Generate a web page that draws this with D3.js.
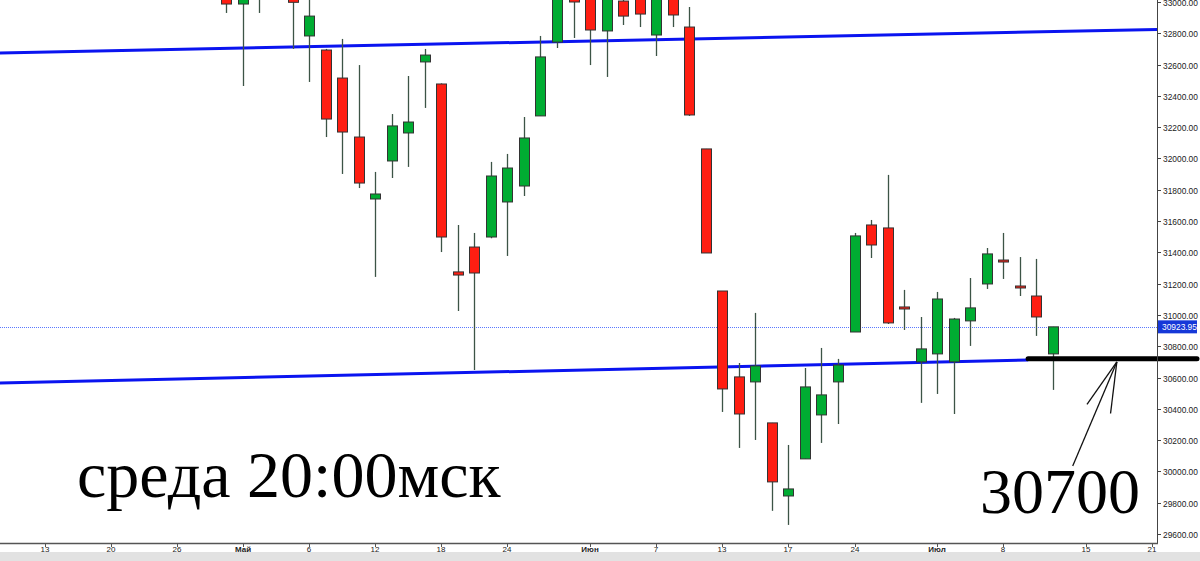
<!DOCTYPE html>
<html>
<head>
<meta charset="utf-8">
<script src="https://cdn.jsdelivr.net/npm/d3@7"></script>
<style>
  body { margin: 0; background: #fff; }
  svg { display: block; }
  .ylab, .xlab { font-family: "Liberation Sans", Arial, sans-serif; fill: #222; }
</style>
</head>
<body>
<div id="chart"></div>
<script>
// daily candles, Dow Jones, 29.04 .. 13.07
const dates = [
    "2022-04-29", "2022-05-02", "2022-05-03", "2022-05-04", "2022-05-05", "2022-05-06",
    "2022-05-09", "2022-05-10", "2022-05-11", "2022-05-12", "2022-05-13",
    "2022-05-16", "2022-05-17", "2022-05-18", "2022-05-19", "2022-05-20",
    "2022-05-23", "2022-05-24", "2022-05-25", "2022-05-26", "2022-05-27",
    "2022-05-31", "2022-06-01", "2022-06-02", "2022-06-03",
    "2022-06-06", "2022-06-07", "2022-06-08", "2022-06-09", "2022-06-10",
    "2022-06-13", "2022-06-14", "2022-06-15", "2022-06-16", "2022-06-17",
    "2022-06-21", "2022-06-22", "2022-06-23", "2022-06-24",
    "2022-06-27", "2022-06-28", "2022-06-29", "2022-06-30", "2022-07-01",
    "2022-07-05", "2022-07-06", "2022-07-07", "2022-07-08",
    "2022-07-11", "2022-07-12", "2022-07-13"
];
const opens = [
    33140, 32987, 33065, 33130, 34060, 32783,
    32693, 32514, 32137, 31741, 31984,
    32163, 32617, 32476, 31275, 31434,
    31498, 31722, 31824, 32272, 32744,
    33180, 33150, 32815, 33006,
    33080, 32789, 33170, 32840, 32061,
    31153, 30604, 30572, 30310, 29843,
    30080, 30361, 30572, 30891,
    31575, 31556, 31051, 30700, 30751,
    30700, 30962, 31198, 31351,
    31185, 31121, 30751
];
const highs = [
    33204, 33070, 33250, 34118, 34060, 33100,
    32700, 32764, 32597, 31914, 32284,
    32527, 32700, 32480, 31575, 31524,
    31978, 32029, 32265, 32783, 33215,
    33200, 33270, 33260, 33060,
    33200, 33200, 33200, 32968, 32061,
    31153, 30693, 31013, 30310, 30169,
    30661, 30789, 30719, 31524,
    31607, 31895, 31160, 30987, 31147,
    30981, 31236, 31428, 31524,
    31370, 31358, 30924
];
const lows = [
    32930, 32463, 32930, 33030, 32700, 32489,
    32137, 31901, 31811, 31243, 31875,
    31946, 32323, 31402, 31025, 30648,
    31490, 31377, 31760, 32272, 32706,
    32770, 32597, 32521, 32853,
    32840, 32655, 32840, 32272, 31396,
    30380, 30150, 30201, 29748, 29658,
    30080, 30182, 30303, 30891,
    31364, 30942, 30904, 30438, 30495,
    30367, 30802, 31166, 31230,
    31121, 30866, 30521
];
const closes = [
    32987, 33061, 33128, 34061, 32998, 32910,
    32252, 32169, 31843, 31773, 32208,
    32233, 32661, 31498, 31255, 31268,
    31888, 31939, 32131, 32649, 33213,
    33000, 32821, 33248, 32910,
    32923, 33180, 32917, 32278, 31396,
    30527, 30367, 30674, 29933, 29888,
    30540, 30489, 30680, 31505,
    31447, 30949, 31038, 30783, 31102,
    30974, 31045, 31390, 31345,
    31179, 30987, 30923.95
];
const lastPrice = 30923.95;

const holidays = ["2022-04-15", "2022-05-30", "2022-06-20", "2022-07-04"];
const tickDates = [
    "2022-04-13", "2022-04-20", "2022-04-26", "2022-05-02", "2022-05-06", "2022-05-12",
    "2022-05-18", "2022-05-24", "2022-06-01", "2022-06-07", "2022-06-13", "2022-06-17",
    "2022-06-24", "2022-07-01", "2022-07-08", "2022-07-15", "2022-07-21"
];
const tickLabels = ["13", "20", "26", "Май", "6", "12", "18", "24", "Июн", "7", "13", "17", "24", "Июл", "8", "15", "21"];
const monthLabels = ["Май", "Июн", "Июл"];
const yTicks = [29600, 29800, 30000, 30200, 30400, 30600, 30800, 31000, 31200, 31400,
    31600, 31800, 32000, 32200, 32400, 32600, 32800, 33000];

// hand drawn lines: [trading day index, price]
const upperTrend = [[-13.7, 32674], [56.3, 32825]];
const lowerTrend = [[-13.7, 30565], [48.5, 30712]];
const levelLine = [48.5, 30720];
const arrowTip = [53.87, 30700];
const arrowTail = [51.2, 30035];

const width = 1200,
    height = 561,
    plotRight = 1157,
    plotBottom = 543,
    bodyWidth = 10;

const parse = d3.timeParse("%Y-%m-%d");
const holidaySet = new Set(holidays);
const fmtDay = d3.timeFormat("%Y-%m-%d");
const day0 = parse(dates[0]);

function isTrading(d) {
    const wd = d.getDay();
    return wd !== 0 && wd !== 6 && !holidaySet.has(fmtDay(d));
}

// position of a date in trading days, counted from the first candle
function tradeIndex(str) {
    const d = parse(str);
    if (d >= day0) return d3.timeDay.range(day0, d).filter(isTrading).length;
    return -d3.timeDay.range(d, day0).filter(isTrading).length;
}

const candles = dates.map((d, i) => ({
    idx: tradeIndex(d),
    o: opens[i], h: highs[i], l: lows[i], c: closes[i]
}));

const x = d3.scaleLinear().domain([-13.7, 56.3]).range([0, plotRight]);
const y = d3.scaleLinear().domain([29600, 33000]).range([534, 2]);

const svg = d3.select('#chart').append('svg')
    .attr('width', width)
    .attr('height', height);

svg.append('rect').attr('x', 0).attr('y', 552).attr('width', width).attr('height', 9).attr('fill', '#e2e2e2');

svg.append('clipPath').attr('id', 'plot')
    .append('rect').attr('x', 0).attr('y', 0).attr('width', plotRight).attr('height', plotBottom);

const plot = svg.append('g').attr('clip-path', 'url(#plot)');

// last price dotted line
plot.append('line')
    .attr('x1', 0).attr('x2', plotRight)
    .attr('y1', Math.round(y(lastPrice)) + 0.5).attr('y2', Math.round(y(lastPrice)) + 0.5)
    .attr('stroke', '#5a78ff').attr('stroke-width', 1).attr('stroke-dasharray', '1,1');

// trend lines
const line = d3.line().x(d => x(d[0])).y(d => y(d[1]));
plot.append('path').attr('d', line(upperTrend))
    .attr('stroke', '#0a14f0').attr('stroke-width', 3).attr('fill', 'none');
plot.append('path').attr('d', line(lowerTrend))
    .attr('stroke', '#0a14f0').attr('stroke-width', 3).attr('fill', 'none');

// candles
const g = plot.selectAll('g.candle')
    .data(candles)
    .enter().append('g')
    .attr('class', 'candle');

g.append('line')
    .attr('x1', d => Math.round(x(d.idx)) + 0.5)
    .attr('x2', d => Math.round(x(d.idx)) + 0.5)
    .attr('y1', d => y(d.h))
    .attr('y2', d => y(d.l))
    .attr('stroke', '#3c5446')
    .attr('stroke-width', 1.3);

g.append('rect')
    .attr('x', d => Math.round(x(d.idx)) - bodyWidth / 2 + 0.5)
    .attr('y', d => y(Math.max(d.o, d.c)))
    .attr('width', bodyWidth)
    .attr('height', d => Math.max(2, Math.abs(y(d.o) - y(d.c))))
    .attr('fill', d => d.c >= d.o ? '#00ac32' : '#ff1e12')
    .attr('stroke', '#333')
    .attr('stroke-width', 1);

// support level
svg.append('line')
    .attr('x1', x(levelLine[0])).attr('x2', 1197)
    .attr('y1', y(levelLine[1])).attr('y2', y(levelLine[1]))
    .attr('stroke', '#000').attr('stroke-width', 5).attr('stroke-linecap', 'round');

// arrow pointing at the level
const tip = [x(arrowTip[0]), y(arrowTip[1])],
    tail = [x(arrowTail[0]), y(arrowTail[1])];
const ang = Math.atan2(tail[1] - tip[1], tail[0] - tip[0]);
const arrow = svg.append('g').attr('stroke', '#111').attr('stroke-width', 1.3);
arrow.append('line').attr('x1', tip[0]).attr('y1', tip[1]).attr('x2', tail[0]).attr('y2', tail[1]);
[0.21, -0.28].forEach(a => {
    arrow.append('line')
        .attr('x1', tip[0]).attr('y1', tip[1])
        .attr('x2', tip[0] + 52 * Math.cos(ang + a))
        .attr('y2', tip[1] + 52 * Math.sin(ang + a));
});

// right axis
const yAxis = svg.append('g').attr('transform', 'translate(' + plotRight + ',0)');
yAxis.append('line').attr('x1', 0.5).attr('x2', 0.5).attr('y1', 0).attr('y2', plotBottom)
    .attr('stroke', '#444');
const yt = yAxis.selectAll('g.yt').data(yTicks).enter().append('g')
    .attr('transform', d => 'translate(0,' + Math.round(y(d)) + ')');
yt.append('line').attr('x1', 0).attr('x2', 4).attr('y1', 0.5).attr('y2', 0.5).attr('stroke', '#444');
yt.append('text').attr('class', 'ylab')
    .attr('x', 6).attr('y', 3.5)
    .style('font-size', '8.4px')
    .text(d => d3.format('.2f')(d));

// last price box
const py = y(lastPrice);
yAxis.append('rect').attr('x', 1).attr('y', py - 6.5).attr('width', 39).attr('height', 13).attr('fill', '#1638d8');
yAxis.append('text').attr('class', 'ylab')
    .attr('x', 5).attr('y', py + 3.2)
    .style('font-size', '8.4px').style('fill', '#fff')
    .text(d3.format('.2f')(lastPrice));

// bottom axis
const xAxis = svg.append('g');
xAxis.append('line').attr('x1', 0).attr('x2', plotRight + 1).attr('y1', plotBottom + 0.5).attr('y2', plotBottom + 0.5)
    .attr('stroke', '#555').attr('stroke-width', 1.5);
const xt = xAxis.selectAll('g.xt').data(tickDates).enter().append('g')
    .attr('transform', d => 'translate(' + Math.round(x(tradeIndex(d))) + ',0)');
xt.append('line').attr('x1', 0.5).attr('x2', 0.5).attr('y1', plotBottom).attr('y2', plotBottom + 4).attr('stroke', '#555');
xt.append('text').attr('class', 'xlab')
    .attr('y', 552)
    .attr('text-anchor', 'middle')
    .style('font-size', '8px')
    .style('font-weight', (d, i) => monthLabels.includes(tickLabels[i]) ? 'bold' : 'normal')
    .text((d, i) => tickLabels[i]);

// notes
svg.append('text')
    .attr('x', 77).attr('y', 497)
    .style('font-family', '"Liberation Serif", "Times New Roman", serif')
    .style('font-size', '66px')
    .text('среда 20:00мск');

svg.append('text')
    .attr('x', 1060).attr('y', 513)
    .attr('text-anchor', 'middle')
    .style('font-family', '"Liberation Serif", "Times New Roman", serif')
    .style('font-size', '64px')
    .text('30700');
</script>
</body>
</html>
